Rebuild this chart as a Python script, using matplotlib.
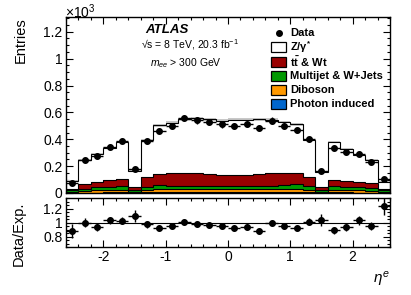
import numpy as np
import matplotlib
matplotlib.use("Agg")
import matplotlib.pyplot as plt
from matplotlib.patches import Rectangle
from matplotlib.ticker import MultipleLocator, AutoMinorLocator, FuncFormatter

plt.rcParams['font.family'] = ['Liberation Sans', 'DejaVu Sans']
plt.rcParams['mathtext.fontset'] = 'custom'
plt.rcParams['mathtext.rm'] = 'Liberation Sans'
plt.rcParams['mathtext.it'] = 'Liberation Sans:italic'
plt.rcParams['mathtext.bf'] = 'Liberation Sans:bold'
plt.rcParams['axes.unicode_minus'] = False

# electron pseudorapidity bins (width 0.2)
edges = np.round(np.arange(-2.6, 2.61, 0.2), 2)
centers = 0.5 * (edges[:-1] + edges[1:])

# entries in units of 10^3
photon = [0.002, 0.003, 0.003, 0.004, 0.004, 0.002, 0.004, 0.005, 0.005, 0.005, 0.005, 0.005, 0.005,
          0.005, 0.005, 0.005, 0.005, 0.005, 0.005, 0.004, 0.002, 0.004, 0.004, 0.003, 0.003, 0.002]
diboson = [0.008, 0.015, 0.018, 0.020, 0.020, 0.008, 0.020, 0.022, 0.024, 0.025, 0.025, 0.024, 0.024,
           0.024, 0.024, 0.025, 0.025, 0.024, 0.022, 0.020, 0.008, 0.020, 0.020, 0.018, 0.015, 0.008]
multijet = [0.012, 0.015, 0.022, 0.022, 0.028, 0.015, 0.022, 0.035, 0.025, 0.025, 0.022, 0.022, 0.020,
            0.020, 0.022, 0.022, 0.025, 0.028, 0.042, 0.025, 0.015, 0.025, 0.020, 0.020, 0.020, 0.012]
ttbar = [0.008, 0.037, 0.042, 0.049, 0.053, 0.020, 0.074, 0.083, 0.094, 0.095, 0.095, 0.089, 0.086,
         0.083, 0.084, 0.088, 0.092, 0.093, 0.083, 0.071, 0.020, 0.051, 0.046, 0.041, 0.039, 0.005]
zgamma = [0.057, 0.175, 0.205, 0.240, 0.275, 0.118, 0.275, 0.360, 0.374, 0.400, 0.408, 0.410, 0.402,
          0.413, 0.412, 0.410, 0.398, 0.378, 0.360, 0.277, 0.110, 0.280, 0.235, 0.203, 0.168, 0.056]
data = [0.076, 0.245, 0.273, 0.345, 0.390, 0.178, 0.385, 0.465, 0.497, 0.557, 0.540, 0.528, 0.510,
        0.502, 0.514, 0.484, 0.539, 0.502, 0.472, 0.400, 0.161, 0.338, 0.302, 0.294, 0.233, 0.102]
# relative size of the grey band on the total expectation
syst = [0.08, 0.02, 0.02, 0.02, 0.02, 0.03, 0.02, 0.02, 0.02, 0.02, 0.02, 0.02, 0.02,
        0.02, 0.02, 0.02, 0.02, 0.02, 0.02, 0.02, 0.03, 0.02, 0.02, 0.02, 0.02, 0.08]

layers = [("Photon induced", photon, "#0066cc"),
          ("Diboson", diboson, "#ff9900"),
          ("Multijet & W+Jets", multijet, "#009900"),
          (r"$\mathbf{t\bar{t}}$ & Wt", ttbar, "#990000"),
          (r"Z/$\mathbf{\gamma^{*}}$", zgamma, "white")]

data = np.array(data)
cum = np.cumsum([np.array(l[1]) for l in layers], axis=0)
total = cum[-1]
data_err = np.sqrt(data * 1000) / 1000
ratio = data / total
ratio_err = data_err / total

fig = plt.figure(figsize=(4.11, 2.95), dpi=100)
ax = fig.add_axes([66/411, 1-193/295, 324/411, 176/295])
rax = fig.add_axes([66/411, 1-247/295, 324/411, 49/295])

# stacked backgrounds, drawn from the top layer down
for i in range(len(layers) - 1, -1, -1):
    ax.stairs(cum[i], edges, baseline=0, fill=True, color=layers[i][2], zorder=2)
    if i == len(layers) - 1:
        band = np.array(syst)
        ax.stairs(total * (1 + band), edges, baseline=total * (1 - band), fill=True,
                  color="#c8c8c8", zorder=2.5)
    ax.stairs(cum[i], edges, baseline=0, color="black", lw=0.8, zorder=3)

ax.errorbar(centers, data, xerr=0.1, yerr=data_err, fmt="o", color="black", ms=4,
            elinewidth=1.0, capsize=0, zorder=5)

ax.set_xlim(-2.6, 2.6)
ax.set_ylim(0, 1.31)
ax.yaxis.set_major_locator(MultipleLocator(0.2))
ax.yaxis.set_minor_locator(AutoMinorLocator(4))
ax.yaxis.set_major_formatter(FuncFormatter(lambda v, p: "%g" % round(v, 2)))
ax.tick_params(labelbottom=False)

rax.axhline(1, color="black", lw=0.8, zorder=1)
rax.errorbar(centers, ratio, xerr=0.1, yerr=ratio_err, fmt="o", color="black", ms=4,
             elinewidth=1.0, capsize=0, zorder=5)
rax.set_xlim(-2.6, 2.6)
rax.set_ylim(0.65, 1.35)
rax.yaxis.set_major_locator(MultipleLocator(0.2))
rax.yaxis.set_minor_locator(AutoMinorLocator(4))
rax.yaxis.set_major_formatter(FuncFormatter(lambda v, p: "%g" % round(v, 2)))

for a in (ax, rax):
    a.xaxis.set_major_locator(MultipleLocator(1))
    a.xaxis.set_minor_locator(AutoMinorLocator(5))
    a.tick_params(which="both", direction="in", top=True, right=True, labelsize=10, width=0.8, pad=2.5)
    a.tick_params(which="major", length=5)
    a.tick_params(which="minor", length=2.5)
    for s in a.spines.values():
        s.set_linewidth(1.0)

# legend
lx, tx = 0.633, 0.691
rows = [0.909, 0.830, 0.744, 0.665, 0.585, 0.506]
ax.plot([0.656], [rows[0]], "o", color="black", ms=4, transform=ax.transAxes, zorder=6)
ax.text(tx, rows[0], "Data", transform=ax.transAxes, fontsize=8, fontweight="bold", va="center")
for k, (name, vals, col) in enumerate(layers[::-1]):
    y = rows[k + 1]
    ax.add_patch(Rectangle((lx, y - 0.03), 0.046, 0.06, transform=ax.transAxes, facecolor=col,
                           edgecolor="black", lw=0.9, zorder=6))
    ax.text(tx, y, name, transform=ax.transAxes, fontsize=8, fontweight="bold", va="center")

ax.text(0.244, 0.925, "ATLAS", transform=ax.transAxes, fontsize=9.5, fontweight="bold",
        style="italic", va="center")
ax.text(0.232, 0.842, r"√s = 8 TeV, 20.3 fb$^{-1}$", transform=ax.transAxes, fontsize=7.5, va="center")
ax.text(0.259, 0.737, r"$m_{ee}$ > 300 GeV", transform=ax.transAxes, fontsize=7.5, va="center")

fig.text(0.158, 0.96, r"$\times$10$^{3}$", fontsize=10, va="center")
fig.text(0.051, 0.942, "Entries", rotation=90, fontsize=10.5, ha="center", va="top")
fig.text(0.046, 0.315, "Data/Exp.", rotation=90, fontsize=10.5, ha="center", va="top")
fig.text(0.949, 0.051, r"$\eta^{e}$", fontsize=11, ha="right", va="center")

fig.savefig("out.png", dpi=100)
